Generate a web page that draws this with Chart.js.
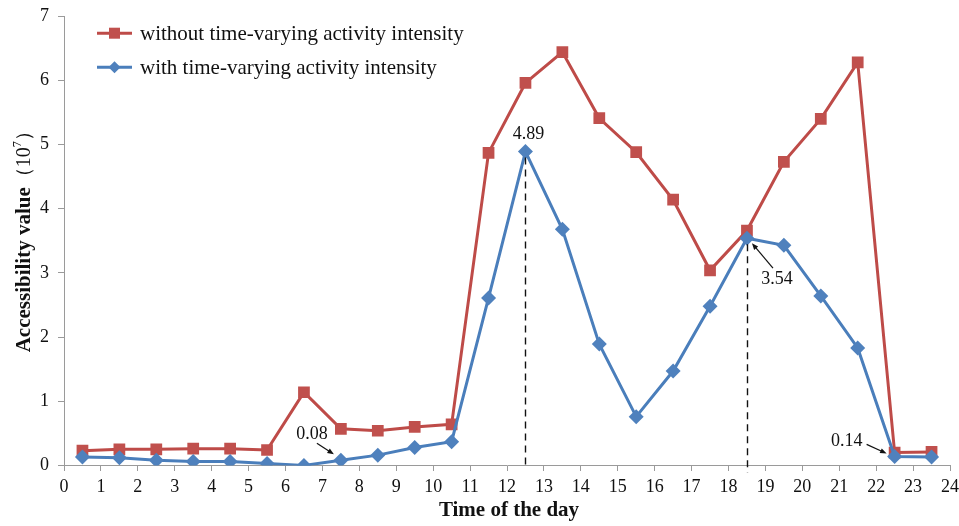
<!DOCTYPE html>
<html>
<head>
<meta charset="utf-8">
<script src="https://cdn.jsdelivr.net/npm/chart.js@4/dist/chart.umd.min.js"></script>
<style>
  html, body { margin: 0; padding: 0; background: #ffffff; }
  #wrap { width: 959px; height: 526px; }
</style>
</head>
<body>
<div id="wrap"><canvas id="chart" width="959" height="526"></canvas></div>
<script>
// Hour-of-day midpoints for each hourly interval
const hours = [0.5, 1.5, 2.5, 3.5, 4.5, 5.5, 6.5, 7.5, 8.5, 9.5, 10.5, 11.5,
               12.5, 13.5, 14.5, 15.5, 16.5, 17.5, 18.5, 19.5, 20.5, 21.5, 22.5, 23.5];

// Accessibility value (10^7), without time-varying activity intensity
const withoutIntensity = [0.23, 0.25, 0.25, 0.26, 0.26, 0.24, 1.14, 0.57, 0.54, 0.60, 0.64, 4.87,
                          5.96, 6.44, 5.41, 4.88, 4.14, 3.04, 3.66, 4.73, 5.40, 6.28, 0.20, 0.21];

// Accessibility value (10^7), with time-varying activity intensity
const withIntensity = [0.13, 0.12, 0.08, 0.06, 0.06, 0.03, 0.00, 0.08, 0.16, 0.28, 0.37, 2.61,
                       4.89, 3.68, 1.89, 0.76, 1.47, 2.48, 3.54, 3.43, 2.64, 1.83, 0.14, 0.13];

// Axis ticks
const xTicks = [0, 1, 2, 3, 4, 5, 6, 7, 8, 9, 10, 11, 12, 13, 14, 15, 16, 17, 18, 19, 20, 21, 22, 23, 24];
const yTicks = [0, 1, 2, 3, 4, 5, 6, 7];

// Series labels and axis titles
const seriesLabels = ['without time-varying activity intensity', 'with time-varying activity intensity'];
const xTitle = 'Time of the day';
const yTitleName = 'Accessibility value';

// Indices of the "with" series that carry a value callout
const calloutIndices = [7, 12, 18, 22];

const SERIF = '"Liberation Serif", "Times New Roman", serif';
const RED = '#BE4B48';
const BLUE = '#4A7EBB';
const AXIS_GREY = '#9a9a9a';

// Callout placement (pixel offsets from the marked point)
const calloutStyle = {
  7:  { text: [-29, -26], arrow: [[-24, -17], [-7, -6]] },
  12: { text: [3, -17], drop: 0 },
  18: { text: [30, 41], arrow: [[26, 30], [5, 5]], drop: 7 },
  22: { text: [-48, -15], arrow: [[-28, -12], [-8, -3]] }
};

const toPoints = (ys) => hours.map((h, i) => ({ x: h, y: ys[i] }));

function drawArrow(ctx, x1, y1, x2, y2) {
  const ang = Math.atan2(y2 - y1, x2 - x1);
  const head = 7, spread = 0.38;
  ctx.beginPath();
  ctx.moveTo(x1, y1);
  ctx.lineTo(x2 - Math.cos(ang) * head * 0.6, y2 - Math.sin(ang) * head * 0.6);
  ctx.stroke();
  ctx.beginPath();
  ctx.moveTo(x2, y2);
  ctx.lineTo(x2 - head * Math.cos(ang - spread), y2 - head * Math.sin(ang - spread));
  ctx.lineTo(x2 - head * Math.cos(ang + spread), y2 - head * Math.sin(ang + spread));
  ctx.closePath();
  ctx.fill();
}

// Dashed drop lines, arrows and value labels on the "with" series
const calloutPlugin = {
  id: 'callouts',
  afterDatasetsDraw(chart) {
    const { ctx, scales } = chart;
    const xs = scales.x, ys = scales.y;
    const base = ys.getPixelForValue(0);
    ctx.save();
    ctx.strokeStyle = '#111';
    ctx.fillStyle = '#111';
    ctx.font = '18px ' + SERIF;
    ctx.textAlign = 'center';
    ctx.textBaseline = 'middle';
    calloutIndices.forEach((i) => {
      const st = calloutStyle[i];
      const px = xs.getPixelForValue(hours[i]);
      const py = ys.getPixelForValue(withIntensity[i]);
      if (st.drop !== undefined) {
        ctx.save();
        ctx.lineWidth = 1.4;
        ctx.setLineDash([7, 5]);
        ctx.beginPath();
        ctx.moveTo(Math.round(px) + 0.5, py + 6);
        ctx.lineTo(Math.round(px) + 0.5, base + st.drop);
        ctx.stroke();
        ctx.restore();
      }
      if (st.arrow) {
        ctx.lineWidth = 1.2;
        const [[ax, ay], [bx, by]] = st.arrow;
        drawArrow(ctx, px + ax, py + ay, px + bx, py + by);
      }
      ctx.fillText(withIntensity[i].toFixed(2), px + st.text[0], py + st.text[1]);
    });
    ctx.restore();
  }
};

// Legend with line-and-marker swatches, placed in the upper left of the plot
const legendPlugin = {
  id: 'lineLegend',
  afterDraw(chart) {
    const { ctx, chartArea } = chart;
    const x0 = chartArea.left + 33, x1 = chartArea.left + 68;
    const rows = [chartArea.top + 17, chartArea.top + 51];
    ctx.save();
    chart.data.datasets.forEach((ds) => {
      const y = rows[ds.legendRow];
      ctx.strokeStyle = ds.borderColor;
      ctx.fillStyle = ds.pointBackgroundColor;
      ctx.lineWidth = 3;
      ctx.beginPath();
      ctx.moveTo(x0, y);
      ctx.lineTo(x1, y);
      ctx.stroke();
      const cx = (x0 + x1) / 2;
      ctx.beginPath();
      if (ds.pointStyle === 'rect') {
        ctx.rect(cx - 5.5, y - 5.5, 11, 11);
      } else {
        ctx.moveTo(cx, y - 6); ctx.lineTo(cx + 6, y); ctx.lineTo(cx, y + 6); ctx.lineTo(cx - 6, y);
        ctx.closePath();
      }
      ctx.fill();
      ctx.fillStyle = '#111';
      ctx.font = '21px ' + SERIF;
      ctx.textAlign = 'left';
      ctx.textBaseline = 'middle';
      ctx.fillText(ds.label, x1 + 8, y + 1);
    });
    ctx.restore();
  }
};

// Axis titles: horizontal one under the tick labels, vertical one with a regular-weight unit
const axisTitlePlugin = {
  id: 'axisTitles',
  afterDraw(chart) {
    const { ctx, chartArea } = chart;
    ctx.save();
    ctx.fillStyle = '#111';
    ctx.textBaseline = 'middle';

    // x title
    ctx.font = 'bold 21px ' + SERIF;
    ctx.textAlign = 'center';
    ctx.fillText(xTitle, (chartArea.left + chartArea.right) / 2 + 2, 511);

    // y title
    const cx = 24;
    const cy = (chartArea.top + chartArea.bottom) / 2 - 4;
    const parts = [
      { t: yTitleName, f: 'bold 21px ' + SERIF, dy: 0 },
      { t: '\uFF0810', f: '20px ' + SERIF, dy: 0 },
      { t: '7', f: '12px ' + SERIF, dy: -7 },
      { t: '\uFF09', f: '20px ' + SERIF, dy: 0 }
    ];
    let total = 0;
    parts.forEach((p) => { ctx.font = p.f; p.w = ctx.measureText(p.t).width; total += p.w; });
    ctx.translate(cx, cy);
    ctx.rotate(-Math.PI / 2);
    ctx.textAlign = 'left';
    let x = -total / 2;
    parts.forEach((p) => {
      ctx.font = p.f;
      ctx.fillText(p.t, x, p.dy + 1);
      x += p.w;
    });
    ctx.restore();
  }
};

new Chart(document.getElementById('chart'), {
  type: 'line',
  data: {
    datasets: [
      {
        label: seriesLabels[0],
        legendRow: 0,
        data: toPoints(withoutIntensity),
        borderColor: RED,
        backgroundColor: RED,
        pointBackgroundColor: '#C0504D',
        pointBorderColor: '#C0504D',
        pointStyle: 'rect',
        pointRadius: 8.3,
        pointBorderWidth: 0,
        borderWidth: 3,
        tension: 0,
        order: 1
      },
      {
        label: seriesLabels[1],
        legendRow: 1,
        data: toPoints(withIntensity),
        borderColor: BLUE,
        backgroundColor: BLUE,
        pointBackgroundColor: '#4F81BD',
        pointBorderColor: '#4F81BD',
        pointStyle: 'rectRot',
        pointRadius: 7.5,
        pointBorderWidth: 0,
        borderWidth: 3,
        tension: 0,
        order: 0
      }
    ]
  },
  options: {
    responsive: false,
    animation: false,
    events: [],
    layout: { padding: { left: 31, right: 0, top: 2, bottom: 28 } },
    plugins: {
      legend: { display: false },
      tooltip: { enabled: false }
    },
    scales: {
      x: {
        type: 'linear',
        min: xTicks[0],
        max: xTicks[xTicks.length - 1],
        afterBuildTicks: (s) => { s.ticks = xTicks.map((v) => ({ value: v })); },
        border: { color: AXIS_GREY, width: 1 },
        grid: {
          display: true, drawOnChartArea: false, drawTicks: true,
          tickLength: 11, tickBorderDash: [5, 40], color: AXIS_GREY
        },
        ticks: { color: '#111', font: { family: SERIF, size: 18 }, padding: 0, maxRotation: 0, autoSkip: false }
      },
      y: {
        type: 'linear',
        min: yTicks[0],
        max: yTicks[yTicks.length - 1],
        afterBuildTicks: (s) => { s.ticks = yTicks.map((v) => ({ value: v })); },
        border: { color: AXIS_GREY, width: 1 },
        grid: { display: true, drawOnChartArea: false, drawTicks: true, tickLength: 6, color: AXIS_GREY },
        ticks: { color: '#111', font: { family: SERIF, size: 18, lineHeight: 0.8 }, padding: 9 }
      }
    }
  },
  plugins: [calloutPlugin, legendPlugin, axisTitlePlugin]
});
</script>
</body>
</html>
